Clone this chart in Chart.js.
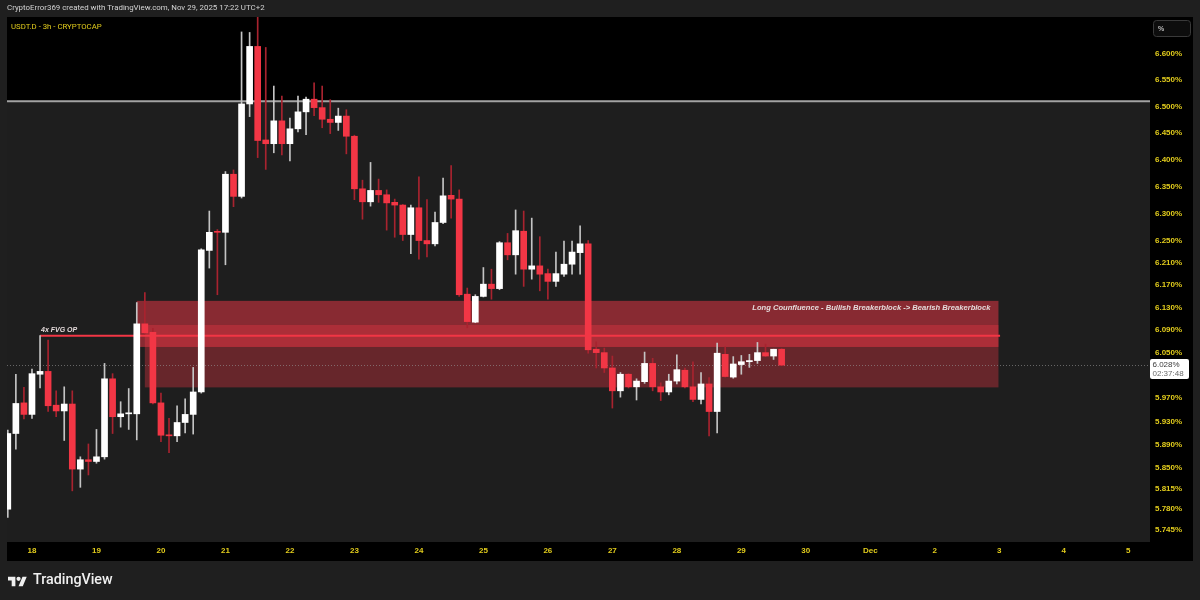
<!DOCTYPE html>
<html>
<head>
<meta charset="utf-8">
<title>USDT.D - 3h - CRYPTOCAP</title>
<script src="https://cdn.jsdelivr.net/npm/chart.js@4.4.1/dist/chart.umd.min.js"></script>
<style>
  html, body { margin: 0; padding: 0; background: #1f1f1f; }
  #wrap { position: relative; width: 1200px; height: 600px; overflow: hidden; }
  #chart { position: absolute; left: 0; top: 0; }
  .header {
    position: absolute; left: 7px; top: 3px;
    font: 7.9px Roboto, sans-serif; color: #d4d4d4; white-space: nowrap;
  }
  .footer { position: absolute; left: 8px; top: 572px; height: 18px; }
  .footer svg { position: absolute; left: 0; top: 2px; }
  .footer span {
    position: absolute; left: 25px; top: -1px;
    font: 500 14.3px Roboto, sans-serif; color: #f0f0f0; white-space: nowrap;
  }
</style>
</head>
<body>
<div id="wrap">
  <canvas id="chart" width="1200" height="600"></canvas>
  <div class="header">CryptoError369 created with TradingView.com, Nov 29, 2025 17:22 UTC+2</div>
  <div class="footer">
    <svg width="19" height="15" viewBox="0 2 36 22"><g fill="#f0f0f0">
      <path d="M14 22H7V11H0V4h14v18zM28 22h-8l7.5-18h8L28 22z"/><circle cx="20" cy="8" r="4"/></g></svg>
    <span>TradingView</span>
  </div>
</div>

<script>
// USDT.D 3h candles; bar 0 = Nov 18 00:00, the first visible bar is 3 bars earlier
const firstBar = -3;

const opens = [
  5.780, 5.909, 5.962, 5.942, 6.012, 6.017, 5.958, 5.948, 5.960, 5.848,
  5.864, 5.861, 5.869, 6.004, 5.938, 5.943, 5.943, 6.101, 6.086, 5.962,
  5.906, 5.905, 5.928, 5.942, 5.981, 6.233, 6.267, 6.266, 6.373, 6.332,
  6.505, 6.615, 6.437, 6.430, 6.473, 6.430, 6.458, 6.490, 6.514, 6.498,
  6.476, 6.470, 6.482, 6.444, 6.346, 6.322, 6.343, 6.335, 6.321, 6.316,
  6.262, 6.311, 6.251, 6.245, 6.284, 6.334, 6.327, 6.154, 6.104, 6.150,
  6.172, 6.164, 6.247, 6.225, 6.268, 6.199, 6.205, 6.191, 6.177, 6.190,
  6.208, 6.229, 6.245, 6.056, 6.050, 6.023, 5.983, 6.012, 5.990, 5.999,
  6.031, 5.990, 5.981, 6.000, 6.019, 5.990, 5.968, 5.995, 5.947, 6.047,
  6.007, 6.029, 6.034, 6.036, 6.050, 6.044, 6.056
];
const highs = [
  5.915, 6.012, 5.989, 6.021, 6.080, 6.072, 5.983, 5.990, 5.983, 5.869,
  5.891, 5.916, 6.031, 6.013, 5.964, 5.987, 6.139, 6.157, 6.093, 5.979,
  5.935, 5.957, 5.969, 6.024, 6.236, 6.305, 6.271, 6.378, 6.381, 6.643,
  6.642, 6.690, 6.613, 6.539, 6.520, 6.478, 6.520, 6.518, 6.545, 6.539,
  6.513, 6.497, 6.494, 6.446, 6.362, 6.395, 6.364, 6.344, 6.327, 6.317,
  6.316, 6.368, 6.326, 6.303, 6.366, 6.389, 6.344, 6.165, 6.153, 6.202,
  6.199, 6.249, 6.264, 6.307, 6.305, 6.292, 6.258, 6.199, 6.230, 6.250,
  6.250, 6.278, 6.251, 6.069, 6.058, 6.044, 6.015, 6.013, 6.004, 6.051,
  6.040, 5.997, 6.012, 6.046, 6.023, 6.034, 6.015, 6.006, 6.067, 6.060,
  6.043, 6.045, 6.047, 6.068, 6.065, 6.056, 6.057
];
const lows = [
  5.766, 5.882, 5.934, 5.935, 5.988, 5.947, 5.938, 5.897, 5.811, 5.817,
  5.838, 5.858, 5.865, 5.909, 5.920, 5.916, 5.898, 6.083, 5.960, 5.895,
  5.876, 5.895, 5.910, 5.908, 5.979, 6.201, 6.153, 6.207, 6.313, 6.329,
  6.481, 6.404, 6.382, 6.413, 6.409, 6.398, 6.452, 6.447, 6.483, 6.460,
  6.449, 6.455, 6.411, 6.326, 6.290, 6.314, 6.321, 6.270, 6.257, 6.251,
  6.227, 6.217, 6.221, 6.241, 6.282, 6.292, 6.150, 6.094, 6.103, 6.149,
  6.145, 6.162, 6.216, 6.190, 6.168, 6.181, 6.160, 6.145, 6.168, 6.186,
  6.190, 6.190, 6.049, 6.023, 6.015, 5.953, 5.972, 5.988, 5.967, 5.996,
  5.983, 5.966, 5.976, 5.995, 5.988, 5.964, 5.960, 5.905, 5.910, 6.007,
  6.005, 6.012, 6.024, 6.031, 6.043, 6.038, 6.027
];
const closes = [
  5.909, 5.961, 5.942, 6.013, 6.017, 5.957, 5.948, 5.960, 5.848, 5.864,
  5.861, 5.869, 6.004, 5.938, 5.943, 5.944, 6.101, 6.085, 5.962, 5.906,
  5.905, 5.928, 5.942, 5.981, 6.234, 6.266, 6.266, 6.373, 6.332, 6.505,
  6.615, 6.436, 6.430, 6.473, 6.430, 6.458, 6.490, 6.514, 6.498, 6.476,
  6.470, 6.482, 6.444, 6.346, 6.322, 6.343, 6.335, 6.320, 6.316, 6.262,
  6.311, 6.251, 6.245, 6.284, 6.333, 6.327, 6.153, 6.105, 6.150, 6.172,
  6.164, 6.247, 6.225, 6.269, 6.199, 6.205, 6.190, 6.177, 6.191, 6.208,
  6.230, 6.245, 6.055, 6.050, 6.023, 5.983, 6.012, 5.990, 6.000, 6.031,
  5.990, 5.981, 6.000, 6.020, 5.990, 5.968, 5.995, 5.947, 6.049, 6.008,
  6.030, 6.034, 6.036, 6.050, 6.044, 6.056, 6.028
];

const dayLabels = ['18', '19', '20', '21', '22', '23', '24', '25', '26', '27', '28', '29', '30', 'Dec', '2', '3', '4', '5'];
const barsPerDay = 8;
const priceTicks = [6.6, 6.55, 6.5, 6.45, 6.4, 6.35, 6.3, 6.25, 6.21, 6.17, 6.13, 6.09, 6.05, 6.01,
                    5.97, 5.93, 5.89, 5.85, 5.815, 5.78, 5.745];

// drawings on the chart
const topLevel = 6.51;
const fvgLevel = 6.080;
const fvgFromBar = 1;
const fvgToBar = 120.1;
const upperZone = [6.142, 6.060];   // top, bottom
const lowerZone = [6.099, 5.989];
const upperZoneFrom = 13;
const lowerZoneFrom = 14;
const zoneToBar = 119.9;
const countdown = '02:37:48';

const YELLOW = '#e2cc1c';
const BULL = '#ffffff';
const BEAR = '#f23645';

const isBull = i => closes[i] >= opens[i];

/**
 * Backgrounds, zones, lines and labels drawn around the candles
 */
const decorPlugin = {
    id: 'decor',
    beforeDraw(chart) {
        const { ctx, chartArea: a, scales: { y } } = chart;
        ctx.save();
        // black pane incl. both axes
        ctx.fillStyle = '#000';
        ctx.fillRect(a.left, a.top, 1193 - a.left, 561 - a.top);
        // grey area below the top level
        const yl = y.getPixelForValue(topLevel);
        ctx.fillStyle = '#1e1e1e';
        ctx.fillRect(a.left, yl, a.right - a.left, a.bottom - yl);
        ctx.restore();
    },
    beforeDatasetsDraw(chart) {
        const { ctx, chartArea: a, scales: { x, y } } = chart;
        ctx.save();
        ctx.beginPath();
        ctx.rect(a.left, a.top, a.right - a.left, a.bottom - a.top);
        ctx.clip();

        // top level line
        const yl = y.getPixelForValue(topLevel);
        ctx.strokeStyle = '#a3a3a3';
        ctx.lineWidth = 2;
        ctx.beginPath();
        ctx.moveTo(a.left, yl);
        ctx.lineTo(a.right, yl);
        ctx.stroke();

        // breaker block zones
        const box = (from, to, top, bottom, color) => {
            const x0 = x.getPixelForValue(from), x1 = x.getPixelForValue(to);
            const y0 = y.getPixelForValue(top), y1 = y.getPixelForValue(bottom);
            ctx.fillStyle = color;
            ctx.fillRect(x0, y0, x1 - x0, y1 - y0);
        };
        box(lowerZoneFrom, zoneToBar, lowerZone[0], lowerZone[1], 'rgba(242, 54, 69, 0.35)');
        box(upperZoneFrom, zoneToBar, upperZone[0], upperZone[1], 'rgba(242, 54, 69, 0.5)');

        // FVG line
        const yf = y.getPixelForValue(fvgLevel);
        ctx.strokeStyle = BEAR;
        ctx.lineWidth = 2;
        ctx.beginPath();
        ctx.moveTo(x.getPixelForValue(fvgFromBar), yf);
        ctx.lineTo(x.getPixelForValue(fvgToBar), yf);
        ctx.stroke();

        // last price dotted line
        const yp = Math.round(y.getPixelForValue(closes[closes.length - 1])) + 0.5;
        ctx.strokeStyle = 'rgba(150, 150, 150, 0.6)';
        ctx.lineWidth = 1;
        ctx.setLineDash([1, 2]);
        ctx.beginPath();
        ctx.moveTo(a.left, yp);
        ctx.lineTo(a.right, yp);
        ctx.stroke();
        ctx.setLineDash([]);

        // texts
        ctx.fillStyle = '#e4dada';
        ctx.font = 'italic bold 7.6px "Liberation Sans", Arial, sans-serif';
        ctx.textBaseline = 'middle';
        ctx.textAlign = 'right';
        ctx.fillText('Long Counfluence - Bullish Breakerblock -> Bearish Breakerblock',
            x.getPixelForValue(zoneToBar) - 8, y.getPixelForValue(upperZone[0]) + 7);
        ctx.textAlign = 'left';
        ctx.font = 'italic bold 7px "Liberation Sans", Arial, sans-serif';
        ctx.fillText('4x FVG OP', x.getPixelForValue(fvgFromBar) + 1, yf - 6);
        ctx.restore();
    },
    afterDraw(chart) {
        const { ctx, chartArea: a, scales: { y } } = chart;
        ctx.save();
        // symbol title
        ctx.fillStyle = YELLOW;
        ctx.font = '7.8px Roboto, sans-serif';
        ctx.textBaseline = 'middle';
        ctx.textAlign = 'left';
        ctx.fillText('USDT.D - 3h - CRYPTOCAP', 11, 27);

        // % button
        ctx.fillStyle = '#0d0d0d';
        ctx.strokeStyle = '#3a3a3a';
        ctx.lineWidth = 1;
        ctx.beginPath();
        ctx.roundRect(1153.5, 20.5, 37, 16, 3);
        ctx.fill();
        ctx.stroke();
        ctx.fillStyle = '#bdbdbd';
        ctx.font = 'bold 7px "Liberation Sans", Arial, sans-serif';
        ctx.fillText('%', 1158, 29);

        // last price label
        const last = closes[closes.length - 1];
        const yp = y.getPixelForValue(last);
        ctx.fillStyle = '#ffffff';
        ctx.beginPath();
        ctx.roundRect(a.right, yp - 6, 39, 20, 2);
        ctx.fill();
        ctx.font = '8px "Liberation Sans", Arial, sans-serif';
        ctx.fillStyle = '#3a3a3a';
        ctx.fillText(last.toFixed(3) + '%', a.right + 2.5, yp);
        ctx.fillStyle = '#6a6a6a';
        ctx.fillText(countdown, a.right + 2.5, yp + 9);
        ctx.restore();
    }
};

const bars = opens.map((o, i) => firstBar + i);

const tickFont = { family: '"Liberation Sans", Arial, sans-serif', size: 8, weight: 'bold' };

new Chart(document.getElementById('chart'), {
    type: 'bar',
    data: {
        datasets: [
            {
                label: 'body',
                order: 1,
                data: bars.map((b, i) => ({ x: b, y: [opens[i], closes[i]] })),
                backgroundColor: ctx => isBull(ctx.dataIndex) ? BULL : BEAR,
                barThickness: 6,
                minBarLength: 1,
                borderWidth: 0,
                grouped: false
            },
            {
                label: 'wick',
                order: 2,
                data: bars.map((b, i) => ({ x: b, y: [lows[i], highs[i]] })),
                backgroundColor: ctx => isBull(ctx.dataIndex) ? '#c4c4c4' : '#a8232f',
                barThickness: 1,
                borderWidth: 0,
                grouped: false
            }
        ]
    },
    options: {
        responsive: false,
        maintainAspectRatio: false,
        animation: false,
        events: [],
        layout: { padding: { left: 7, top: 17, right: 7, bottom: 39 } },
        plugins: {
            legend: { display: false },
            tooltip: { enabled: false }
        },
        scales: {
            x: {
                type: 'linear',
                min: -3.1,
                max: 138.7,
                offset: false,
                grid: { display: false, drawTicks: false },
                border: { display: false },
                afterBuildTicks: axis => {
                    axis.ticks = dayLabels.map((d, i) => ({ value: i * barsPerDay }));
                },
                afterFit: axis => { axis.height = 19; },
                ticks: {
                    autoSkip: false,
                    maxRotation: 0,
                    padding: 4,
                    color: YELLOW,
                    font: tickFont,
                    callback: (v, i) => dayLabels[i]
                }
            },
            y: {
                type: 'logarithmic',
                position: 'right',
                min: 5.725,
                max: 6.672,
                bounds: 'data',
                grid: { display: false, drawTicks: false },
                border: { display: false },
                afterBuildTicks: axis => {
                    axis.ticks = priceTicks.map(v => ({ value: v }));
                },
                afterFit: axis => { axis.width = 43; },
                ticks: {
                    autoSkip: false,
                    padding: 5,
                    color: YELLOW,
                    font: tickFont,
                    callback: v => Number(v).toFixed(3) + '%'
                }
            }
        }
    },
    plugins: [decorPlugin]
});
</script>
</body>
</html>
